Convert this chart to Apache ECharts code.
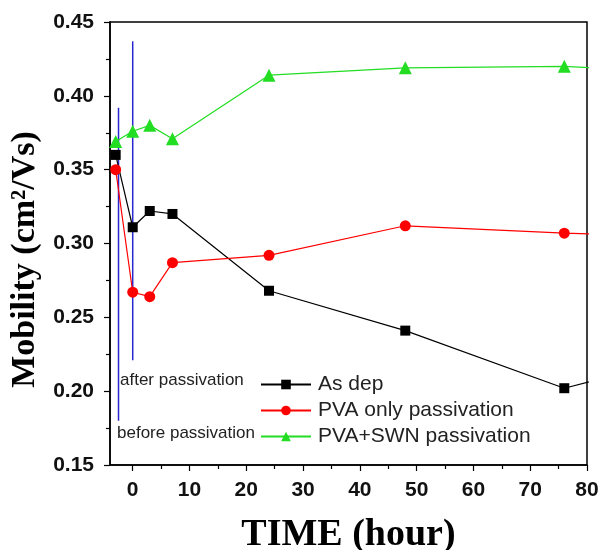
<!DOCTYPE html>
<html>
<head>
<meta charset="utf-8">
<script src="https://cdn.jsdelivr.net/npm/echarts@6/dist/echarts.min.js"></script>
<style>
  html, body { margin: 0; padding: 0; background: #fff; }
  #chart { width: 600px; height: 550px; }
</style>
</head>
<body>
<div id="chart"></div>
<script>
// time points (hour) and mobility values
const timeHours = [-3, 0, 3, 7, 24, 48, 76, 96];
const asDep = [0.360, 0.311, 0.322, 0.320, 0.268, 0.241, 0.202, 0.222];
const pvaOnly = [0.350, 0.267, 0.264, 0.287, 0.292, 0.312, 0.307, 0.305];
const pvaSwn = [0.369, 0.376, 0.380, 0.371, 0.414, 0.419, 0.420, 0.416];

// blue marker lines (before / after passivation)
const beforeLine = [[-2.5, 0.392], [-2.5, 0.180]];
const afterLine = [[0, 0.437], [0, 0.221]];

const xLabels = [0, 10, 20, 30, 40, 50, 60, 70, 80];
const xMinor = [-5, 5, 15, 25, 35, 45, 55, 65, 75];

function pairs(ys) {
    return timeHours.map((t, i) => [t, ys[i]]);
}

let chart = echarts.init(document.getElementById('chart'), null, { renderer: 'canvas' });

const tickFont = { fontFamily: 'Liberation Sans, Arial', fontWeight: 'bold', fontSize: 21, color: '#111' };

let option = {
    backgroundColor: '#fff',
    animation: false,
    grid: {
        left: 110, right: 13, top: 22, bottom: 85,
        outerBoundsMode: 'none',
        containLabel: false,
        show: true, borderColor: '#000', borderWidth: 1.5
    },
    legend: {
        orient: 'vertical',
        left: 255,
        top: 369,
        itemWidth: 50,
        itemHeight: 12,
        itemGap: 5,
        textStyle: { fontFamily: 'Liberation Sans, Arial', fontSize: 21, color: '#222', padding: [0, 0, 0, 2] },
        data: ['As dep', 'PVA only passivation', 'PVA+SWN passivation']
    },
    xAxis: [{
        type: 'value',
        min: -4,
        max: 80,
        name: 'TIME (hour)',
        nameLocation: 'middle',
        nameGap: 51,
        nameTextStyle: { fontFamily: 'Liberation Serif, Times New Roman', fontWeight: 'bold', fontSize: 38, color: '#000' },
        axisLine: { onZero: false, lineStyle: { color: '#000', width: 1.5 } },
        axisTick: { show: true, length: 6, lineStyle: { color: '#000', width: 1.2 }, customValues: xLabels },
        axisLabel: Object.assign({ margin: 15, customValues: xLabels }, tickFont),
        splitLine: { show: false }
    }, {
        type: 'value',
        min: -4,
        max: 80,
        position: 'bottom',
        axisLine: { show: false },
        axisTick: { show: true, length: 4, lineStyle: { color: '#000', width: 1.2 }, customValues: xMinor },
        axisLabel: { show: false, customValues: xMinor },
        splitLine: { show: false }
    }],
    yAxis: {
        type: 'value',
        min: 0.15,
        max: 0.45,
        interval: 0.05,
        name: 'Mobility (cm²/Vs)',
        nameLocation: 'middle',
        nameGap: 62,
        nameTextStyle: {
            fontFamily: 'Liberation Serif, Times New Roman', fontWeight: 'bold', fontSize: 34, color: '#000',
            padding: [0, 32, 0, 0]
        },
        axisLine: { onZero: false, lineStyle: { color: '#000', width: 1.5 } },
        axisTick: { show: true, length: 6, lineStyle: { color: '#000', width: 1.2 } },
        minorTick: { show: true, splitNumber: 2, length: 4, lineStyle: { color: '#000', width: 1.2 } },
        axisLabel: Object.assign({ margin: 16, formatter: v => v.toFixed(2) }, tickFont),
        splitLine: { show: false }
    },
    series: [{
        name: 'As dep',
        type: 'line',
        data: pairs(asDep),
        symbol: 'rect',
        symbolSize: 10,
        color: '#000',
        lineStyle: { width: 1.2, color: '#000' },
        itemStyle: { color: '#000' }
    }, {
        name: 'PVA only passivation',
        type: 'line',
        data: pairs(pvaOnly),
        symbol: 'circle',
        symbolSize: 11,
        color: '#ff0000',
        lineStyle: { width: 1.2, color: '#ff0000' },
        itemStyle: { color: '#ff0000' }
    }, {
        name: 'PVA+SWN passivation',
        type: 'line',
        data: pairs(pvaSwn),
        symbol: 'triangle',
        symbolSize: 13,
        color: '#22dd22',
        lineStyle: { width: 1.2, color: '#22dd22' },
        itemStyle: { color: '#22dd22' }
    }, {
        name: 'before',
        type: 'line',
        data: beforeLine,
        showSymbol: false,
        symbol: 'none',
        lineStyle: { width: 1.5, color: '#2828d0' },
        z: 1
    }, {
        name: 'after',
        type: 'line',
        data: afterLine,
        showSymbol: false,
        symbol: 'none',
        lineStyle: { width: 1.5, color: '#2828d0' },
        z: 1
    }],
    graphic: [{
        type: 'text',
        x: 120,
        y: 380,
        style: { text: 'after passivation', fontFamily: 'Liberation Sans, Arial', fontSize: 17, fill: '#222', verticalAlign: 'middle' }
    }, {
        type: 'text',
        x: 117,
        y: 433,
        style: { text: 'before passivation', fontFamily: 'Liberation Sans, Arial', fontSize: 17, fill: '#222', verticalAlign: 'middle' }
    }]
};

chart.setOption(option);
</script>
</body>
</html>
